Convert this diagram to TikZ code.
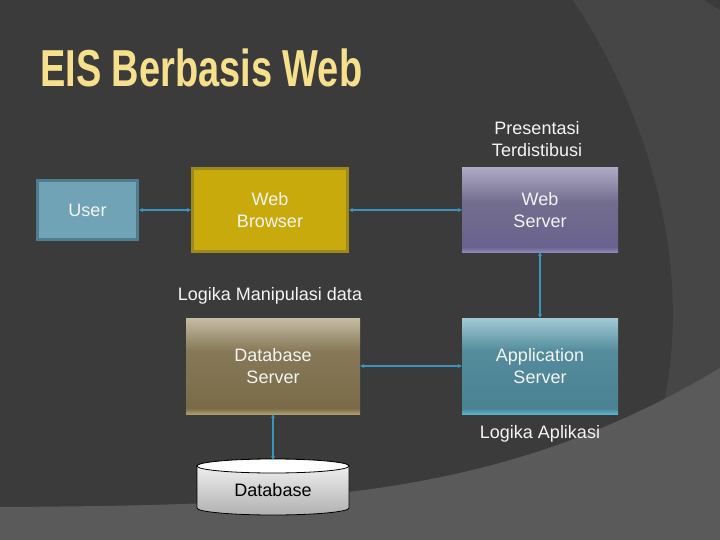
\documentclass[tikz,border=0pt]{standalone}
\usepackage{fontspec}
\usepackage{graphicx}
\setmainfont{Liberation Sans}
\usetikzlibrary{arrows.meta}

\definecolor{bgdark}{HTML}{3B3B3B}
\definecolor{bgband}{HTML}{464646}
\definecolor{bglight}{HTML}{5A5A5A}
\definecolor{titleyellow}{HTML}{F6E08C}
\definecolor{linkblue}{HTML}{3896BE}
\definecolor{userfill}{HTML}{6FA3B5}
\definecolor{userline}{HTML}{4F7D8F}
\definecolor{browserfill}{HTML}{C9AA0C}
\definecolor{browserline}{HTML}{9C8A1C}
\definecolor{boxtext}{HTML}{F4F4F4}
% web server
\definecolor{wsline}{HTML}{8E86B6}
\definecolor{wslow}{HTML}{69628E}
\definecolor{wsmid}{HTML}{736E8E}
\definecolor{wstop}{HTML}{AEAAC5}
% application server
\definecolor{asline}{HTML}{5CB3CC}
\definecolor{aslow}{HTML}{4A8294}
\definecolor{asmid}{HTML}{548C9C}
\definecolor{astop}{HTML}{A2CAD4}
% database server
\definecolor{dsline}{HTML}{AD9E70}
\definecolor{dslow}{HTML}{7A6A48}
\definecolor{dsmid}{HTML}{877958}
\definecolor{dstop}{HTML}{C6BCA5}

\pgfdeclareverticalshading{webserverfill}{100bp}{color(0bp)=(wsline); color(25bp)=(wsline); color(28bp)=(wslow); color(55bp)=(wsmid); color(75bp)=(wstop); color(100bp)=(wstop)}
\pgfdeclareverticalshading{appserverfill}{100bp}{color(0bp)=(asline); color(25bp)=(asline); color(28bp)=(aslow); color(58bp)=(asmid); color(75bp)=(astop); color(100bp)=(astop)}
\pgfdeclareverticalshading{dbserverfill}{100bp}{color(0bp)=(dsline); color(25bp)=(dsline); color(28bp)=(dslow); color(58bp)=(dsmid); color(75bp)=(dstop); color(100bp)=(dstop)}

\begin{document}
\begin{tikzpicture}[x=1pt,y=-1pt,
  every node/.style={font=\fontsize{18}{22}\selectfont, text=boxtext, align=center, inner sep=0pt},
  box/.style={minimum width=#1},
  link/.style={draw=linkblue, line width=1.6pt, {Stealth[length=4pt,width=4pt]}-{Stealth[length=4pt,width=4pt]}}]

\useasboundingbox (0,0) rectangle (720,540);

% background
\fill[bgdark] (0,0) rectangle (720,540);
\fill[bgband] (573,0) .. controls (640,100) and (700,260) .. (660,420) -- (720,420) -- (720,0) -- cycle;
\fill[bgdark] (704,0) .. controls (710,4) and (715,7) .. (720,10) -- (720,0) -- cycle;
\fill[bglight] (0,507) .. controls (300,505) and (500,500) .. (720,368) -- (720,540) -- (0,540) -- cycle;

\node at (40,87) [anchor=base west, text=titleyellow] (title)
  {\scalebox{0.73}[1]{\fontsize{52}{52}\selectfont\bfseries EIS Berbasis Web}};

\node at (537,139) (presentasi) {Presentasi\\Terdistibusi};
\node at (270,296) (manipulasi) {Logika Manipulasi data};
\node at (540,434) (aplikasi) {Logika Aplikasi};

\node at (87.5,210) [fill=userfill, draw=userline, line width=3pt, minimum width=100, minimum height=58] (user) {User};
\node at (270,210) [fill=browserfill, draw=browserline, line width=3pt, minimum width=155, minimum height=82] (browser) {Web\\Browser};
\node at (540,210) [shading=webserverfill, minimum width=156, minimum height=84] (webserver) {Web\\Server};
\node at (540,366) [shading=appserverfill, minimum width=156, minimum height=96] (appserver) {Application\\Server};
\node at (273,366) [shading=dbserverfill, minimum width=174, minimum height=96] (dbserver) {Database\\Server};

% database cylinder
\shade[top color=white!94!gray, bottom color=gray!62, draw=black, line width=0.8pt]
  (197,466) -- (197,508) arc[start angle=180, end angle=0, x radius=76, y radius=7]
  -- (349,466) arc[start angle=0, end angle=-180, x radius=76, y radius=7] -- cycle;
\draw[fill=white, line width=0.8pt] (273,466) ellipse [x radius=76, y radius=7];
\node at (273,490) [text=black, minimum width=152, minimum height=60] (db) {Database};

\draw[link] (user) -- (browser);
\draw[link] (browser) -- (webserver);
\draw[link] (webserver) -- (appserver);
\draw[link] (appserver) -- (dbserver);
\draw[link] (dbserver) -- (db);

\end{tikzpicture}
\end{document}
